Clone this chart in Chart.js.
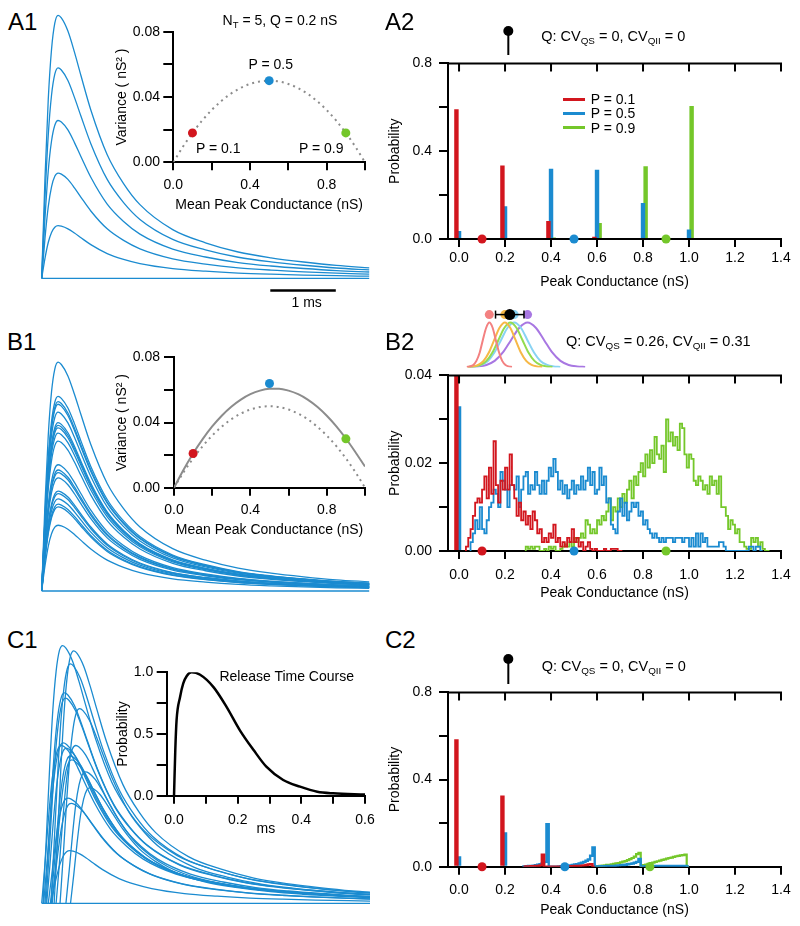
<!DOCTYPE html>
<html>
<head>
<meta charset="utf-8">
<script src="https://cdn.jsdelivr.net/npm/chart.js@4.4.1/dist/chart.umd.min.js"></script>
<style>
  body { margin: 0; width: 800px; height: 926px; position: relative; overflow: hidden; background: #fff;
         font-family: "Liberation Sans", Arial, sans-serif; color: #000; }
  canvas { position: absolute; }
  .t { position: absolute; white-space: nowrap; line-height: 1; transform: translateX(-50%); }
  .t.l { transform: none; }
  .t sub { font-size: 0.68em; vertical-align: baseline; position: relative; top: 0.3em; }
  .key { position: absolute; height: 3px; width: 22px; }
</style>
</head>
<body>
<script>
// ---------- conductance traces (time in ms, normalised shape) ----------
const waveT = [0, 0.05, 0.1, 0.15, 0.2, 0.25, 0.3, 0.4, 0.5, 0.6, 0.75, 1.0, 1.25, 1.5, 2.0, 2.5, 3.0, 3.5, 4.0, 4.5, 5.0];
const waveA = [0, 0.38, 0.68, 0.87, 0.97, 1.0, 0.99, 0.94, 0.86, 0.77, 0.64, 0.47, 0.36, 0.28, 0.185, 0.135, 0.1, 0.078, 0.062, 0.049, 0.04];
// asynchronous release traces rise a bit slower
const asyncT = [0, 0.05, 0.1, 0.15, 0.2, 0.25, 0.3, 0.35, 0.45, 0.55, 0.65, 0.8, 1.05, 1.3, 1.55, 2.05, 2.55, 3.05, 3.55, 4.05, 4.55, 5.05];
const asyncA = [0, 0.25, 0.52, 0.75, 0.9, 0.98, 1.0, 0.99, 0.94, 0.86, 0.77, 0.64, 0.47, 0.36, 0.28, 0.185, 0.135, 0.1, 0.078, 0.062, 0.049, 0.04];

// peak amplitudes (nS) of the traces in A1, B1, C1
const ampsA = [0, 0.2, 0.4, 0.6, 0.8, 1.0];
const ampsB = [0, 0.87, 0.74, 0.72, 0.71, 0.68, 0.64, 0.63, 0.62, 0.60, 0.57, 0.48, 0.46, 0.45, 0.43, 0.38, 0.37, 0.35, 0.33, 0.32, 0.25];
const ampsC = [0, 0.98, 0.96, 0.91, 0.80, 0.78, 0.74, 0.61, 0.60, 0.59, 0.60, 0.56, 0.545, 0.50, 0.44, 0.40, 0.38, 0.20];
const onsetC = [0, 0.02, 0.19, 0.14, 0.05, 0.065, 0.28, 0.03, 0.0, 0.076, 0.22, 0.14, 0.16, 0.37, 0.44, 0.10, 0.15, 0.13];
const scaleBarMs = [3.49, 4.49];

// ---------- variance-mean insets ----------
const meanG = [0.1, 0.5, 0.9];
const varA = [0.018, 0.05, 0.018];
const varB = [0.021, 0.064, 0.030];
const vmX = [0, 0.05, 0.1, 0.15, 0.2, 0.25, 0.3, 0.35, 0.4, 0.45, 0.5, 0.55, 0.6, 0.65, 0.7, 0.75, 0.8, 0.85, 0.9, 0.95, 1.0];
const vmBinomial = [0, 0.0095, 0.018, 0.0255, 0.032, 0.0375, 0.042, 0.0455, 0.048, 0.0495, 0.05, 0.0495, 0.048, 0.0455, 0.042, 0.0375, 0.032, 0.0255, 0.018, 0.0095, 0];
const vmVariable = [0, 0.011, 0.021, 0.0298, 0.0376, 0.0442, 0.0497, 0.0541, 0.0574, 0.0596, 0.0607, 0.0608, 0.0596, 0.0574, 0.0541, 0.0497, 0.0442, 0.0377, 0.0302, 0.0218, 0.013];

// ---------- release time course ----------
const relT = [0, 0.004, 0.008, 0.019, 0.029, 0.04, 0.055, 0.082, 0.124, 0.165, 0.207, 0.25, 0.29, 0.343, 0.396, 0.45, 0.5, 0.6];
const relP = [0, 0.37, 0.61, 0.8, 0.91, 0.97, 1.0, 0.98, 0.88, 0.72, 0.53, 0.37, 0.235, 0.127, 0.073, 0.032, 0.019, 0.01];

// ---------- amplitude histograms ----------
const condTicks = [0, 0.2, 0.4, 0.6, 0.8, 1.0, 1.2, 1.4];
const condLabels = ['0.0', '0.2', '0.4', '0.6', '0.8', '1.0', '1.2', '1.4'];
const quantPeaks = [0, 0.2, 0.4, 0.6, 0.8, 1.0];
const histA_p1 = [0.591, 0.335, 0.082, 0.01, 0, 0];
const histA_p5 = [0.036, 0.149, 0.32, 0.316, 0.164, 0.043];
const histA_p9 = [0, 0, 0.007, 0.073, 0.331, 0.606];

const failB = [0.59, 0.033, 0];          // failures (0 nS) for P = 0.1, 0.5, 0.9
const binW = 0.01;
const histB_p1_start = 0.03;
const histB_p1 = [0.0005, 0.001, 0.003, 0.005, 0.008, 0.011, 0.012, 0.011, 0.014, 0.017, 0.012, 0.019, 0.013, 0.025, 0.015, 0.011, 0.016, 0.014, 0.019, 0.014,
  0.022, 0.015, 0.012, 0.008, 0.011, 0.007, 0.009, 0.006, 0.008, 0.005, 0.009, 0.007, 0.004, 0.005, 0.002, 0.003, 0.002, 0.004, 0.003, 0.006,
  0.002, 0.003, 0.001, 0.002, 0.001, 0.003, 0.002, 0.005, 0.002, 0.003, 0.001, 0.002, 0, 0.001, 0.002, 0.0005, 0, 0.0005, 0, 0,
  0, 0.0005, 0, 0, 0.0005, 0.0005, 0.0005, 0];
const histB_p5_start = 0.05;
const histB_p5 = [0.001, 0.002, 0.004, 0.007, 0.005, 0.010, 0.005, 0.004, 0.007, 0.010, 0.011, 0.014, 0.013, 0.010, 0.018, 0.016, 0.014, 0.010, 0.015, 0.015,
  0.014, 0.017, 0.010, 0.014, 0.017, 0.018, 0.013, 0.015, 0.014, 0.018, 0.015, 0.013, 0.016, 0.013, 0.016, 0.019, 0.017, 0.021, 0.018, 0.014,
  0.016, 0.013, 0.015, 0.012, 0.014, 0.016, 0.013, 0.015, 0.014, 0.017, 0.014, 0.016, 0.019, 0.015, 0.018, 0.013, 0.014, 0.019, 0.015, 0.017,
  0.011, 0.012, 0.006, 0.005, 0.004, 0.009, 0.012, 0.008, 0.011, 0.007, 0.009, 0.011, 0.010, 0.011, 0.008, 0.009, 0.006, 0.007, 0.005, 0.004,
  0.003, 0.004, 0.003, 0.002, 0.003, 0.002, 0.003, 0.003, 0.003, 0.002, 0.003, 0.003, 0.003, 0.002, 0.003, 0.003, 0.001, 0.003, 0.001, 0.004,
  0.001, 0.004, 0.002, 0.003, 0.001, 0.001, 0.001, 0.001, 0.001, 0.002, 0.002, 0.001, 0, 0, 0, 0, 0, 0, 0, 0,
  0, 0, 0.001, 0.001, 0, 0.001, 0.001];
const histB_p9_start = 0.29;
const histB_p9 = [0, 0.001, 0.0005, 0.001, 0.0005, 0.001, 0.001, 0, 0, 0.0005, 0, 0.001, 0.0005, 0.001, 0, 0, 0.0005, 0.001, 0.0015, 0.001,
  0.002, 0.001, 0.003, 0.002, 0.003, 0.004, 0.003, 0.007, 0.006, 0.004, 0.005, 0.004, 0.007, 0.006, 0.008, 0.007, 0.009, 0.012, 0.007, 0.010,
  0.009, 0.012, 0.010, 0.013, 0.011, 0.014, 0.016, 0.012, 0.017, 0.015, 0.018, 0.020, 0.017, 0.022, 0.019, 0.023, 0.020, 0.026, 0.022, 0.021,
  0.024, 0.018, 0.030, 0.025, 0.027, 0.024, 0.026, 0.023, 0.029, 0.028, 0.022, 0.019, 0.022, 0.021, 0.016, 0.015, 0.017, 0.016, 0.014, 0.015,
  0.013, 0.017, 0.015, 0.016, 0.013, 0.017, 0.010, 0.010, 0.008, 0.005, 0.007, 0.006, 0.004, 0.005, 0.002, 0.002, 0.001, 0.0005, 0.0005, 0.003,
  0.002, 0.003, 0.001, 0.002, 0.0005, 0];

const failC = [[0.585, 0.327], [0.048, 0.158], [0, 0]];   // bars at 0 and 0.2 nS
const histC_p1_start = 0.28;
const histC_p1 = [0, 0, 0.001, 0.001, 0.002, 0.002, 0.003, 0.004, 0.006, 0.055, 0, 0, 0, 0, 0, 0, 0, 0, 0.001, 0.001,
  0.001, 0.002, 0.002, 0.003, 0.003, 0.004, 0.005, 0.006, 0.008, 0.01, 0.012];
const histC_p5_start = 0.28;
const histC_p5 = [0.001, 0.001, 0.002, 0.003, 0.004, 0.005, 0.007, 0.009, 0.012, 0.016, 0.022, 0.195, 0, 0, 0, 0, 0.001, 0.002, 0.003, 0.004,
  0.005, 0.006, 0.008, 0.01, 0.012, 0.015, 0.018, 0.022, 0.027, 0.033, 0.05, 0.088, 0.001, 0.001, 0.002, 0.002, 0.002, 0.003, 0.003, 0.004,
  0.004, 0.005, 0.006, 0.007, 0.008, 0.009, 0.011, 0.013, 0.015, 0.018, 0.022, 0.035, 0.001, 0.001, 0.002, 0.002, 0.002, 0.002, 0.003, 0.002,
  0.003, 0.003, 0.003, 0.003, 0.002, 0.003, 0.003, 0.003, 0.003, 0.002, 0.003, 0.003];
const histC_p9_start = 0.60;
const histC_p9 = [0.002, 0.003, 0.004, 0.005, 0.006, 0.008, 0.009, 0.011, 0.013, 0.015, 0.017, 0.02, 0.023, 0.026, 0.03, 0.035, 0.04, 0.046, 0.058, 0.063,
  0.004, 0.007, 0.01, 0.013, 0.016, 0.019, 0.022, 0.025, 0.028, 0.031, 0.034, 0.037, 0.04, 0.042, 0.045, 0.048, 0.05, 0.052, 0.053, 0.056];
const meanC = [0.1, 0.46, 0.83];

// ---------- quantal size distributions above the histograms ----------
const quantQ = [0.2];
const siteX = [
  [0.012, 0.026, 0.041, 0.055, 0.070, 0.084, 0.099, 0.113, 0.128, 0.142, 0.157, 0.171, 0.186, 0.200, 0.215],
  [0.015, 0.039, 0.063, 0.087, 0.111, 0.135, 0.159, 0.183, 0.207, 0.231, 0.255, 0.279, 0.303, 0.327, 0.351],
  [0.019, 0.046, 0.073, 0.100, 0.127, 0.154, 0.181, 0.208, 0.235, 0.262, 0.289, 0.316, 0.343, 0.370, 0.397],
  [0.018, 0.048, 0.077, 0.107, 0.136, 0.166, 0.195, 0.225, 0.255, 0.284, 0.314, 0.343, 0.373, 0.402, 0.432],
  [0.026, 0.063, 0.100, 0.137, 0.174, 0.211, 0.248, 0.285, 0.322, 0.359, 0.396, 0.433, 0.470, 0.507, 0.544]
];
const siteY = [0, 0.011, 0.044, 0.135, 0.325, 0.607, 0.882, 1, 0.882, 0.607, 0.325, 0.135, 0.044, 0.011, 0];
const siteMean = [0.113, 0.183, 0.208, 0.225, 0.285];
const qMean = 0.205, qSD = 0.064;

// ---------- styling ----------
const RED = '#d2161e', BLUE = '#1b8bd0', GREEN = '#74c72a', GREY = '#8c8c8c';
const SITE_COLORS = ['#f38181', '#f6b847', '#93dc4f', '#89d3f3', '#a877e2'];
const PCOL = [RED, BLUE, GREEN];
const T0X = 41.7, PX_MS = 65.5, PX_NS = 263;   // trace panel mapping
const X_MIN = -0.048, X_MAX = 1.4;
const BAR_Y = -0.046, DOT_ROW = 1.178;

Chart.defaults.font.family = '"Liberation Sans", Arial, sans-serif';
Chart.defaults.font.size = 14;
Chart.defaults.color = '#000';

function addCanvas(l, t, w, h) {
  const c = document.createElement('canvas');
  c.width = w; c.height = h;
  Object.assign(c.style, { left: l + 'px', top: t + 'px', width: w + 'px', height: h + 'px' });
  document.body.appendChild(c);
  return c;
}

function addText(html, x, baseline, size, left) {
  const d = document.createElement('div');
  d.className = left ? 't l' : 't';
  d.innerHTML = html;
  Object.assign(d.style, { left: x + 'px', top: (baseline - 0.8465 * size) + 'px', fontSize: size + 'px' });
  document.body.appendChild(d);
}

function baseOpts(pad) {
  return {
    responsive: false, animation: false, events: [],
    layout: { padding: pad },
    plugins: { legend: { display: false }, tooltip: { enabled: false } },
    elements: { point: { radius: 0 } }
  };
}

function axis(o) {
  const horiz = o.position === 'bottom';
  return {
    type: 'linear', position: o.position, min: o.min, max: o.max, offset: false,
    afterBuildTicks: s => { s.ticks = o.ticks.map(v => ({ value: v })); },
    afterFit: s => { if (horiz) s.height = o.size; else s.width = o.size; },
    ticks: { autoSkip: false, maxRotation: 0, padding: o.pad, font: { size: 14, lineHeight: 1.2 },
             callback: (v, i) => o.labels[i] },
    grid: { drawOnChartArea: false, drawTicks: true, tickLength: o.tick, color: '#000', lineWidth: 2, offset: false },
    border: { display: true, color: '#000', width: 2 },
    title: { display: true, text: o.title, font: { size: 14, lineHeight: 1 },
             padding: horiz ? { top: 0, bottom: o.tpad } : { top: o.tpad, bottom: 0 } }
  };
}

// top frame line with ticks pointing down into the plot
const topAxis = {
  id: 'topAxis',
  afterDraw(chart) {
    const { ctx, chartArea: a, scales: { x } } = chart;
    ctx.save();
    ctx.strokeStyle = '#000'; ctx.lineWidth = 2;
    ctx.beginPath();
    ctx.moveTo(a.left - 1, a.top); ctx.lineTo(a.right + 1, a.top);
    x.ticks.forEach(t => { const p = x.getPixelForValue(t.value); ctx.moveTo(p, a.top); ctx.lineTo(p, a.top + 8); });
    ctx.stroke();
    ctx.restore();
  }
};

// ---------- trace panels ----------
function traceChart(l, t, w, h, baseY, sets) {
  const opts = baseOpts(0);
  opts.scales = {
    x: { type: 'linear', display: false, min: (l - T0X) / PX_MS, max: (l + w - T0X) / PX_MS },
    y: { type: 'linear', display: false, min: (baseY - t - h) / PX_NS, max: (baseY - t) / PX_NS }
  };
  return new Chart(addCanvas(l, t, w, h), { type: 'line', data: { datasets: sets }, options: opts });
}
const traceStyle = { borderColor: BLUE, borderWidth: 1.3, cubicInterpolationMode: 'monotone' };
const tracesA = ampsA.map(a => ({ ...traceStyle, data: waveT.map((t, i) => ({ x: t, y: waveA[i] * a })) }));
tracesA.push({ data: scaleBarMs.map(x => ({ x, y: BAR_Y })), borderColor: '#000', borderWidth: 2.5 });
traceChart(38, 5, 332, 290, 278.3, tracesA);

const tracesB = ampsB.map(a => ({ ...traceStyle, data: waveT.map((t, i) => ({ x: t, y: waveA[i] * a })) }));
traceChart(38, 350, 332, 245, 591, tracesB);

const tracesC = ampsC.map((a, k) => ({ ...traceStyle, data: asyncT.map((t, i) => ({ x: t + onsetC[k], y: asyncA[i] * a })) }));
traceChart(38, 635, 332, 272, 903.3, tracesC);

// ---------- insets ----------
function insetChart(g, xo, yo, sets) {
  const opts = baseOpts({ top: g.pt, right: g.pr, left: 0, bottom: 0 });
  opts.scales = { x: axis(xo), y: axis(yo) };
  return new Chart(addCanvas(g.l, g.t, g.w, g.h), { type: 'line', data: { datasets: sets }, options: opts });
}
const vmXAxis = { position: 'bottom', min: 0, max: 1.0, ticks: [0, 0.2, 0.4, 0.6, 0.8, 1.0], labels: ['0.0', '', '0.4', '', '0.8', ''],
                  tick: 8, title: 'Mean Peak Conductance (nS)', tpad: 0 };
const vmYAxis = { position: 'left', min: 0, max: 0.08, ticks: [0, 0.02, 0.04, 0.06, 0.08], labels: ['0.00', '', '0.04', '', '0.08'],
                  tick: 10, title: 'Variance ( nS\u00b2 )', tpad: 0.5 };
const dots = (xs, ys, cols, r) => ({ data: xs.map((x, i) => ({ x, y: ys[i] })), showLine: false, pointRadius: r,
                                     pointBackgroundColor: cols, pointBorderWidth: 0, clip: false });
const dotted = { borderColor: GREY, borderWidth: 2, borderDash: [2, 4], cubicInterpolationMode: 'monotone' };

insetChart({ l: 115, t: 20, w: 280, h: 192, pt: 11, pr: 30 },
  { ...vmXAxis, size: 49.7, pad: 6.3 }, { ...vmYAxis, size: 58.3, pad: 3.3 },
  [dots(meanG, varA, PCOL, 4.5),
   { ...dotted, data: vmX.map((x, i) => ({ x, y: vmBinomial[i] })) }]);

insetChart({ l: 115, t: 345, w: 280, h: 192, pt: 12.3, pr: 30 },
  { ...vmXAxis, size: 49.3, pad: 5.9 }, { ...vmYAxis, size: 59, pad: 4 },
  [dots(meanG, varB, PCOL, 4.5),
   { borderColor: GREY, borderWidth: 2, cubicInterpolationMode: 'monotone', data: vmX.map((x, i) => ({ x, y: vmVariable[i] })) },
   { ...dotted, data: vmX.map((x, i) => ({ x, y: vmBinomial[i] })) }]);

insetChart({ l: 116, t: 660, w: 279, h: 176, pt: 12.3, pr: 30 },
  { position: 'bottom', min: -0.023, max: 0.6, ticks: [0, 0.1, 0.2, 0.3, 0.4, 0.5, 0.6], labels: ['0.0', '', '0.2', '', '0.4', '', '0.6'],
    tick: 8, title: 'ms', tpad: 0, size: 40.3, pad: 7.9 },
  { position: 'left', min: 0, max: 1.0, ticks: [0, 0.25, 0.5, 0.75, 1.0], labels: ['0.0', '', '0.5', '', '1.0'],
    tick: 10, title: 'Probability', tpad: 0.3, size: 50.7, pad: 3.4 },
  [{ borderColor: '#000', borderWidth: 2.5, cubicInterpolationMode: 'monotone', data: relT.map((x, i) => ({ x, y: relP[i] })) }]);

// ---------- histograms ----------
function histChart(g, yo, sets) {
  const opts = baseOpts({ top: g.pt, right: 19, left: 0, bottom: 0 });
  opts.scales = {
    x: axis({ position: 'bottom', min: X_MIN, max: X_MAX, ticks: condTicks, labels: condLabels, tick: 8,
              title: 'Peak Conductance (nS)', tpad: g.tpad, size: g.xs, pad: g.xpad }),
    y: axis({ position: 'left', ...yo, tick: 9, title: 'Probability', tpad: 3, size: 63, pad: 7 })
  };
  return new Chart(addCanvas(385, g.t, 415, 241), { type: 'line', data: { datasets: sets }, options: opts, plugins: [topAxis] });
}
const bars = (xs, ys, col, clip) => ({ type: 'bar', data: xs.map((x, i) => ({ x, y: ys[i] })), backgroundColor: col, borderWidth: 0,
                                       barPercentage: 1.7, categoryPercentage: 0.17, clip: clip });
function steps(start, vals, col, w) {
  const pts = [{ x: start, y: 0 }];
  vals.forEach((v, i) => pts.push({ x: start + i * binW, y: v }));
  pts.push({ x: start + vals.length * binW, y: 0 });
  return { data: pts, stepped: 'after', borderColor: col, borderWidth: w || 1.8 };
}
const zeroDots = xs => dots(xs, [0, 0, 0], PCOL, 4.5);
const probTicks = [0, 0.2, 0.4, 0.6, 0.8], probLabels = ['0.0', '', '0.4', '', '0.8'];

histChart({ t: 48, pt: 12, xs: 50, xpad: 3, tpad: 0.3 },
  { min: 0, max: 0.8, ticks: probTicks, labels: probLabels },
  [zeroDots(meanG),
   bars(quantPeaks, histA_p1, RED), bars(quantPeaks, histA_p5, BLUE), bars(quantPeaks, histA_p9, GREEN)]);

histChart({ t: 360, pt: 12.3, xs: 50, xpad: 7.6, tpad: 0.7 },
  { min: 0, max: 0.04, ticks: [0, 0.01, 0.02, 0.03, 0.04], labels: ['0.00', '', '0.02', '', '0.04'] },
  [zeroDots(meanG),
   bars([0], [failB[0]], RED, 0), bars([0], [failB[1]], BLUE, 0), bars([0], [failB[2]], GREEN, 0),
   steps(histB_p1_start, histB_p1, RED), steps(histB_p5_start, histB_p5, BLUE), steps(histB_p9_start, histB_p9, GREEN)]);

histChart({ t: 677, pt: 12, xs: 51.3, xpad: 6.6, tpad: 1 },
  { min: 0, max: 0.8, ticks: probTicks, labels: probLabels },
  [zeroDots(meanC),
   bars([0, 0.2], failC[0], RED), bars([0, 0.2], failC[1], BLUE), bars([0, 0.2], failC[2], GREEN),
   steps(histC_p1_start, histC_p1, RED, 2.4), steps(histC_p5_start, histC_p5, BLUE, 2.4), steps(histC_p9_start, histC_p9, GREEN, 2.2)]);

// ---------- quantal size strips above the histograms ----------
function miniChart(t, h, yMin, yMax, sets) {
  const opts = baseOpts(0);
  opts.scales = { x: { type: 'linear', display: false, min: X_MIN, max: X_MAX },
                  y: { type: 'linear', display: false, min: yMin, max: yMax } };
  return new Chart(addCanvas(448, t, 333, h), { type: 'line', data: { datasets: sets }, options: opts });
}
const lollipop = () => [
  dots(quantQ, [1], '#000', 5),
  { data: [{ x: quantQ[0], y: 0 }, { x: quantQ[0], y: 1 }], borderColor: '#000', borderWidth: 2 }
];
miniChart(20, 40, 0, 40 / 32, lollipop());
miniChart(648, 41, 0, 41 / 33, lollipop());

const siteSets = [
  dots([qMean], [DOT_ROW], '#000', 5.5),
  { data: [{ x: qMean - qSD, y: DOT_ROW }, { x: qMean + qSD, y: DOT_ROW }], borderColor: '#000', borderWidth: 1.5,
    pointStyle: 'line', pointRotation: 90, pointRadius: 4, pointBorderColor: '#000', pointBorderWidth: 1.5, clip: false },
  dots(siteMean, siteMean.map(() => DOT_ROW), SITE_COLORS, 4.5)
];
siteX.forEach((xs, k) => siteSets.push({ data: xs.map((x, i) => ({ x, y: siteY[i] })), borderColor: SITE_COLORS[k],
                                         borderWidth: 2, cubicInterpolationMode: 'monotone' }));
miniChart(300, 73, -0.7 / 52.3, 72.3 / 52.3, siteSets);

// ---------- text ----------
[['A1', 8, 30], ['A2', 385, 30], ['B1', 7, 350], ['B2', 385, 350], ['C1', 7, 648], ['C2', 385, 648]]
  .forEach(([s, x, y]) => addText(s, x, y, 24, true));
addText('N<sub>T</sub> = 5, Q = 0.2 nS', 280, 25, 14);
addText('P = 0.5', 270.8, 69.3, 14);
addText('P = 0.1', 218.3, 152.7, 14);
addText('P = 0.9', 321.2, 152.7, 14);
addText('1 ms', 306.7, 306.7, 14);
addText('Q: CV<sub>QS</sub> = 0, CV<sub>QII</sub> = 0', 613.3, 41.7, 14.5);
addText('Q: CV<sub>QS</sub> = 0.26, CV<sub>QII</sub> = 0.31', 658.3, 346.7, 14.5);
addText('Q: CV<sub>QS</sub> = 0, CV<sub>QII</sub> = 0', 613.8, 671.7, 14.5);
addText('Release Time Course', 286.7, 680.7, 14);

// legend of A2
['P = 0.1', 'P = 0.5', 'P = 0.9'].forEach((s, i) => {
  const cy = 99 + i * 14.2;
  const k = document.createElement('div');
  k.className = 'key';
  Object.assign(k.style, { left: '562.7px', top: (cy - 1.5) + 'px', background: PCOL[i] });
  document.body.appendChild(k);
  addText(s, 590.7, cy + 5, 14, true);
});
</script>
</body>
</html>
